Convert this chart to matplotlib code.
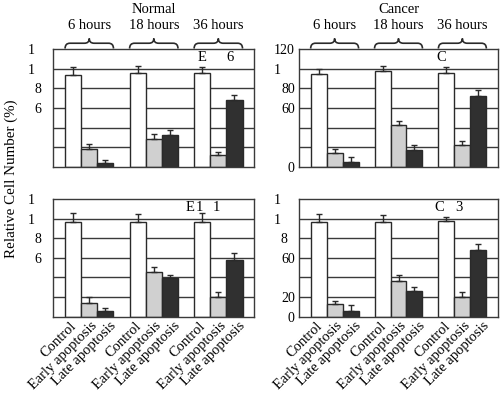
import matplotlib.pyplot as plt
import numpy as np
from matplotlib.path import Path
from matplotlib.patches import PathPatch
from matplotlib.transforms import ScaledTranslation

plt.rcParams['font.family'] = ['Liberation Serif', 'DejaVu Serif']

# data
categories = ["Control", "Early apoptosis", "Late apoptosis"]
hours = ["6 hours", "18 hours", "36 hours"]

normal_top = [94, 18, 4.5, 96, 28.5, 33, 96, 12, 68]
normal_top_err = [8, 5, 2.5, 7, 5, 4.5, 6, 3.5, 5.5]
cancer_top = [95, 14, 5.5, 97.5, 42.5, 17.5, 96, 22.5, 72]
cancer_top_err = [4.5, 4.5, 4.5, 5.5, 4.5, 4.5, 5.5, 3.5, 6]
normal_bot = [96, 14.5, 6, 96.5, 46, 39, 96, 20.5, 58]
normal_bot_err = [10, 5.5, 2.5, 8, 4.5, 4, 9.5, 4.5, 6.5]
cancer_bot = [96.5, 12.5, 6, 96.5, 36, 26.5, 97.5, 20, 68]
cancer_bot_err = [8.5, 3.5, 5.5, 7, 6, 4, 4.5, 5, 6]

# tick labels as they appear (partly missing digits in the original)
yticks_tl = [120, 100, 80, 60]
ylabels_tl = ["1    ", "1    ", "8  ", "6  "]
yticks_tr = [120, 100, 80, 60, 0]
ylabels_tr = ["120", "1    ", "80", "60", "0"]
yticks_bl = [120, 100, 80, 60]
ylabels_bl = ["1    ", "1    ", "8  ", "6  "]
yticks_br = [120, 100, 80, 60, 20, 0]
ylabels_br = ["1    ", "1    ", "8  ", "60", "20", "0"]

# stray letters inside the panels
marks_tl = [(8.0, "E"), (9.75, "6")]
marks_tr = [(7.65, "C")]
marks_bl = [(7.25, "E"), (7.8, "1"), (8.9, "1")]
marks_br = [(7.55, "C"), (8.8, "3")]

colors = ["white", "#d0d0d0", "#303030"]
edge = "#2a2a2a"
grid_c = "#3a3a3a"
label_shift = [6, 10, 13]  # px, rotated labels sit right of their tick

x = np.array([0, 1, 2, 4, 5, 6, 8, 9, 10])
bar_colors = colors * 3

fig = plt.figure(figsize=(5.0, 3.93), dpi=100)
w = 0.402
h = 0.300
ax_tl = fig.add_axes([0.1066, 0.575, w, h])
ax_tr = fig.add_axes([0.598, 0.575, 0.398, h])
ax_bl = fig.add_axes([0.1066, 0.194, w, h])
ax_br = fig.add_axes([0.598, 0.194, 0.398, h])


def brace(ax, x0, x1):
    # curly brace above the axes, point up
    tr = ax.get_xaxis_transform()
    xm = (x0 + x1) / 2
    yb, yl, yt = 1.005, 1.05, 1.09
    r = 0.3
    verts = [(x0, yb), (x0, yl), (x0 + r, yl),
             (xm - r, yl), (xm, yl), (xm, yt),
             (xm, yl), (xm + r, yl),
             (x1 - r, yl), (x1, yl), (x1, yb)]
    codes = [Path.MOVETO, Path.CURVE3, Path.CURVE3,
             Path.LINETO, Path.CURVE3, Path.CURVE3,
             Path.CURVE3, Path.CURVE3,
             Path.LINETO, Path.CURVE3, Path.CURVE3]
    p = PathPatch(Path(verts, codes), transform=tr, fill=False,
                  edgecolor=edge, lw=1.2, clip_on=False)
    ax.add_patch(p)


def panel(ax, vals, errs, yticks, ylabels, marks, bottom, title=None):
    ax.bar(x, vals, width=1.0, color=bar_colors, edgecolor=edge, linewidth=1.0, zorder=2)
    ax.errorbar(x, vals, yerr=[np.zeros(len(vals)), errs], fmt='none',
                ecolor=edge, elinewidth=1.0, capsize=2.5, capthick=1.0, zorder=3)
    ax.set_xlim(-1.23, 11.23)
    ax.set_ylim(0, 120)
    ax.set_yticks(yticks)
    ax.set_yticklabels(ylabels, fontsize=10)
    for gy in range(20, 120, 20):
        ax.axhline(gy, color=grid_c, lw=1.0, zorder=1)
    ax.tick_params(axis='y', length=0, pad=3)
    ax.tick_params(axis='x', length=0, pad=2)
    for s in ax.spines.values():
        s.set_color(grid_c)
        s.set_linewidth(1.0)
    for mx, mt in marks:
        ax.text(mx, 111, mt, ha='center', va='center', fontsize=10.5)
    if bottom:
        ax.set_xticks(x)
        labs = ax.set_xticklabels(categories * 3, rotation=45, ha='right', fontsize=10.5)
        for i, lab in enumerate(labs):
            off = ScaledTranslation(label_shift[i % 3] / 100, 0, fig.dpi_scale_trans)
            lab.set_transform(lab.get_transform() + off)
    else:
        ax.set_xticks([])
        for g in range(3):
            brace(ax, x[3 * g] - 0.5, x[3 * g + 2] + 0.5)
            ax.text(x[3 * g + 1], 1.2, hours[g], transform=ax.get_xaxis_transform(),
                    ha='center', va='center', fontsize=10.5)
        ax.text(5, 1.34, title, transform=ax.get_xaxis_transform(),
                ha='center', va='center', fontsize=10.5)


panel(ax_tl, normal_top, normal_top_err, yticks_tl, ylabels_tl, marks_tl, False, "Normal")
panel(ax_tr, cancer_top, cancer_top_err, yticks_tr, ylabels_tr, marks_tr, False, "Cancer")
panel(ax_bl, normal_bot, normal_bot_err, yticks_bl, ylabels_bl, marks_bl, True)
panel(ax_br, cancer_bot, cancer_bot_err, yticks_br, ylabels_br, marks_br, True)

fig.text(0.022, 0.545, "Relative Cell Number (%)", rotation=90,
         ha='center', va='center', fontsize=10.8)

fig.savefig("out.png", dpi=100)
